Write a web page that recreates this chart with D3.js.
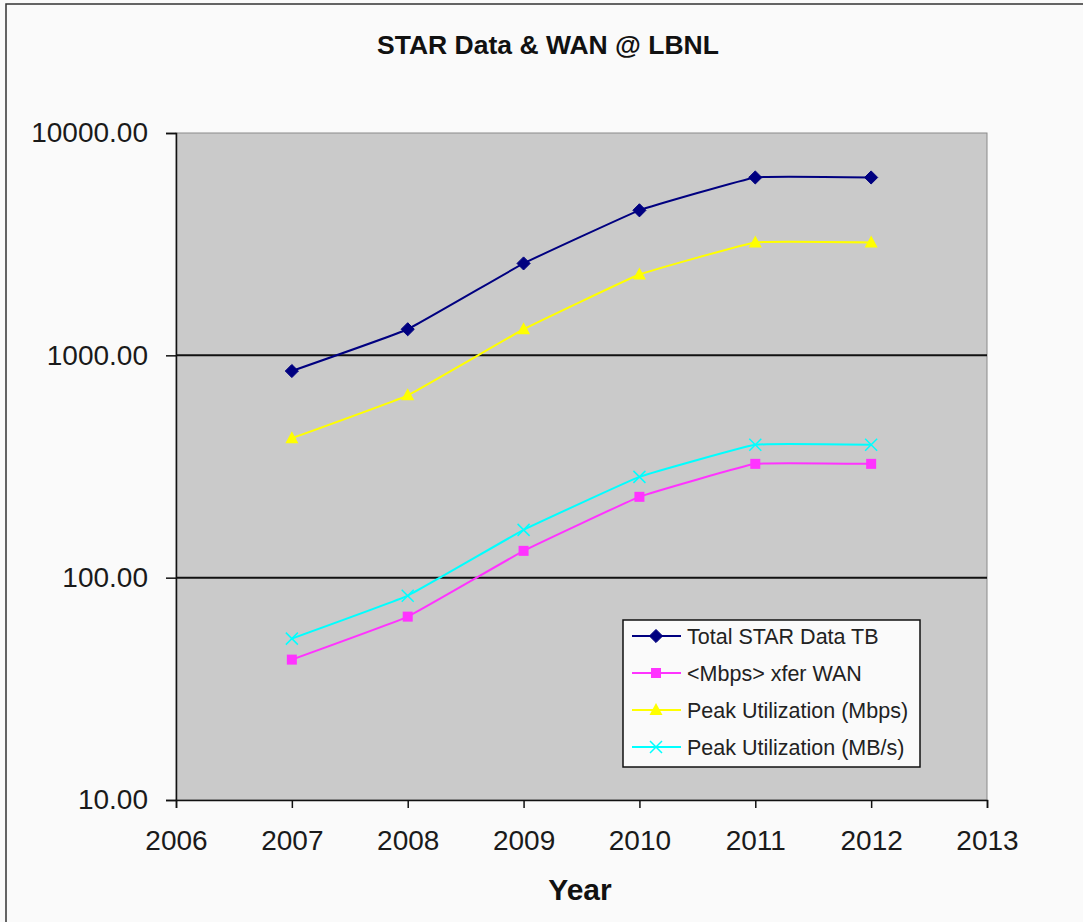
<!DOCTYPE html>
<html>
  <head>
    <title>STAR Data & WAN @ LBNL</title>
    <script src="https://d3js.org/d3.v7.min.js"></script>
    <style>
      body { margin: 0; background: #fafafa; }
      text { font-family: "Liberation Sans", Arial, sans-serif; }
    </style>
  </head>
  <body>
    <div id="chart"></div>
    <script>
      // Data
      var years = [2007, 2008, 2009, 2010, 2011, 2012];
      var totalData = [850, 1310, 2590, 4490, 6310, 6310];
      var xferWan = [42.8, 66.8, 132, 231, 325, 325];
      var peakMbps = [424, 661, 1310, 2310, 3220, 3220];
      var peakMBs = [53.2, 83, 164, 284, 396, 396];
      var yTicks = [10, 100, 1000, 10000];
      var xTicks = [2006, 2007, 2008, 2009, 2010, 2011, 2012, 2013];

      var series = [
        { name: "Total STAR Data TB", values: totalData, color: "#000080", marker: "diamond" },
        { name: "<Mbps> xfer WAN", values: xferWan, color: "#ff33ff", marker: "square" },
        { name: "Peak Utilization (Mbps)", values: peakMbps, color: "#ffff00", marker: "triangle" },
        { name: "Peak Utilization (MB/s)", values: peakMBs, color: "#00ffff", marker: "x" }
      ];

      var width = 1083, height = 922;
      var svg = d3.select("#chart")
        .append("svg")
        .attr("width", width)
        .attr("height", height);

      // outer frame
      svg.append("rect")
        .attr("x", 6).attr("y", 4)
        .attr("width", 1090).attr("height", 930)
        .attr("fill", "#fafafa")
        .attr("stroke", "#333")
        .attr("stroke-width", 1.5);

      var xScale = d3.scaleLinear().domain([2006, 2013]).range([176, 987]);
      var yScale = d3.scaleLog().domain([10, 10000]).range([800, 133]);

      // plot area
      svg.append("rect")
        .attr("x", xScale(2006)).attr("y", yScale(10000))
        .attr("width", xScale(2013) - xScale(2006))
        .attr("height", yScale(10) - yScale(10000))
        .attr("fill", "#cacaca")
        .attr("stroke", "#8a8a8a")
        .attr("stroke-width", 1);

      // gridlines
      svg.append("g")
        .selectAll("line")
        .data([100, 1000])
        .enter()
        .append("line")
        .attr("x1", xScale(2006)).attr("x2", xScale(2013))
        .attr("y1", function(d) { return yScale(d); })
        .attr("y2", function(d) { return yScale(d); })
        .attr("stroke", "#111")
        .attr("stroke-width", 2);

      // axes
      var yAxis = svg.append("g")
        .attr("transform", "translate(" + xScale(2006) + ",0)")
        .call(d3.axisLeft(yScale).tickValues(yTicks).tickFormat(d3.format(".2f")).tickSizeOuter(0).tickSize(10).tickPadding(18));
      var xAxis = svg.append("g")
        .attr("transform", "translate(0," + yScale(10) + ")")
        .call(d3.axisBottom(xScale).tickValues(xTicks).tickFormat(d3.format("d")).tickSizeOuter(0).tickSize(8).tickPadding(22));
      [yAxis, xAxis].forEach(function(ax) {
        ax.selectAll("text")
          .style("font-size", "28px")
          .attr("fill", "#1a1a1a")
          .style("font-family", "'Liberation Sans', Arial, sans-serif");
        ax.selectAll("line, path").attr("stroke", "#111").attr("stroke-width", 1.5);
      });

      // title and axis label
      svg.append("text")
        .attr("x", 548).attr("y", 54)
        .attr("text-anchor", "middle")
        .style("font-size", "26.5px")
        .style("font-weight", "bold")
        .attr("fill", "#111")
        .text("STAR Data & WAN @ LBNL");
      svg.append("text")
        .attr("x", 580).attr("y", 900)
        .attr("text-anchor", "middle")
        .style("font-size", "30px")
        .style("font-weight", "bold")
        .attr("fill", "#111")
        .text("Year");

      function drawMarker(g, type, color) {
        if (type === "diamond") {
          g.append("path").attr("d", d3.symbol().type(d3.symbolDiamond2).size(110)())
            .attr("fill", color).attr("stroke", color);
        } else if (type === "square") {
          g.append("rect").attr("x", -5).attr("y", -5).attr("width", 10).attr("height", 10)
            .attr("fill", color);
        } else if (type === "triangle") {
          g.append("path").attr("d", "M0,-7L6.5,5L-6.5,5Z").attr("fill", color);
        } else {
          g.append("path").attr("d", "M-6,-6L6,6M-6,6L6,-6")
            .attr("stroke", color).attr("stroke-width", 1.5).attr("fill", "none");
        }
      }

      var line = d3.line()
        .x(function(d, i) { return xScale(years[i]); })
        .y(function(d) { return yScale(d); })
        .curve(d3.curveCardinal.tension(0.75));

      series.forEach(function(s) {
        svg.append("path")
          .attr("d", line(s.values))
          .attr("fill", "none")
          .attr("stroke", s.color)
          .attr("stroke-width", 2);
        s.values.forEach(function(v, i) {
          var g = svg.append("g")
            .attr("transform", "translate(" + xScale(years[i]) + "," + yScale(v) + ")");
          drawMarker(g, s.marker, s.color);
        });
      });

      // legend
      var legend = svg.append("g").attr("transform", "translate(623,620)");
      legend.append("rect")
        .attr("width", 297).attr("height", 147)
        .attr("fill", "#fafafa")
        .attr("stroke", "#111")
        .attr("stroke-width", 1.5);
      series.forEach(function(s, i) {
        var y = 16 + i * 37;
        legend.append("line")
          .attr("x1", 9).attr("x2", 58)
          .attr("y1", y).attr("y2", y)
          .attr("stroke", s.color).attr("stroke-width", 2);
        var g = legend.append("g").attr("transform", "translate(33," + y + ")");
        drawMarker(g, s.marker, s.color);
        legend.append("text")
          .attr("x", 64).attr("y", y + 8)
          .style("font-size", "21.5px")
          .attr("fill", "#222")
          .text(s.name);
      });
    </script>
  </body>
</html>
